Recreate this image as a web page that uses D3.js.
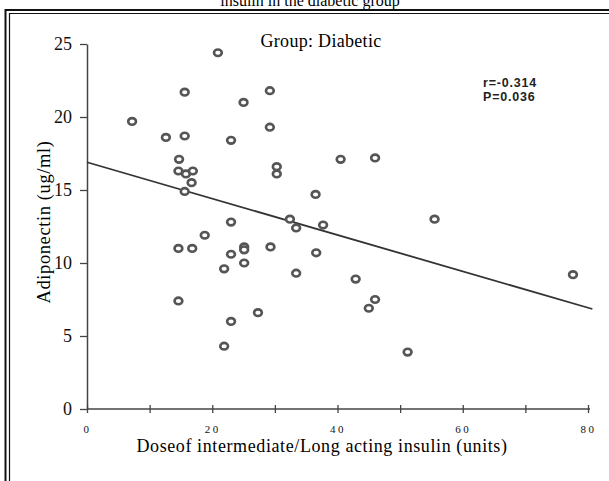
<!DOCTYPE html>
<html>
<head>
<meta charset="utf-8">
<script src="https://cdn.jsdelivr.net/npm/d3@7"></script>
<style>
  body { margin: 0; background: #fff; }
  svg { display: block; }
</style>
</head>
<body>
<div id="chart"></div>
<script>
// insulin dose (units) vs adiponectin (ug/ml), diabetic group
const dose = [20.9, 15.6, 29.2, 25.0, 7.2, 29.2, 12.6, 15.6, 23.0, 40.5,
  14.7, 14.6, 15.8, 16.9, 30.3, 30.3, 16.7, 15.6, 36.5, 46.0,
  55.5, 77.6, 42.9, 46.0, 45.0, 51.2, 32.4, 33.4, 37.7, 23.0,
  18.8, 14.6, 16.8, 25.1, 25.1, 29.3, 23.0, 36.6, 25.1, 21.9,
  33.4, 14.6, 27.3, 23.0, 21.9];
const adiponectin = [24.4, 21.7, 21.8, 21.0, 19.7, 19.3, 18.6, 18.7, 18.4, 17.1,
  17.1, 16.3, 16.1, 16.3, 16.6, 16.1, 15.5, 14.9, 14.7, 17.2,
  13.0, 9.2, 8.9, 7.5, 6.9, 3.9, 13.0, 12.4, 12.6, 12.8,
  11.9, 11.0, 11.0, 11.1, 10.9, 11.1, 10.6, 10.7, 10.0, 9.6,
  9.3, 7.4, 6.6, 6.0, 4.3];
const fitX = [0, 80.7];
const fitY = [16.9, 6.85];
const xTicks = [0, 10, 20, 30, 40, 50, 60, 70, 80];
const xLabels = [0, 20, 40, 60, 80];
const yTicks = [0, 5, 10, 15, 20, 25];
const stats = ['r=-0.314', 'P=0.036'];

const width = 609, height = 481;
const serif = '"Liberation Serif", "Times New Roman", serif';

const svg = d3.select('#chart').append('svg')
  .attr('width', width)
  .attr('height', height);

// double frame (only top & left visible in crop)
svg.append('path')
  .attr('d', `M5.5,${height} V10 H${width}`)
  .attr('fill', 'none').attr('stroke', '#111').attr('stroke-width', 2);
svg.append('path')
  .attr('d', `M9.5,${height} V13.5 H${width}`)
  .attr('fill', 'none').attr('stroke', '#111').attr('stroke-width', 1.2);

// cut-off caption above the frame
svg.append('text')
  .attr('x', 310).attr('y', 6)
  .attr('text-anchor', 'middle')
  .attr('font-family', serif).attr('font-size', 16)
  .text('insulin in the diabetic group');

const x = d3.scaleLinear().domain([0, 80]).range([87, 588]);
const y = d3.scaleLinear().domain([0, 25]).range([409, 44]);

// y axis
const yAxis = svg.append('g')
  .attr('transform', `translate(${x(0)},0)`)
  .call(d3.axisLeft(y).tickValues(yTicks).tickSizeInner(7).tickSizeOuter(0).tickPadding(8));
yAxis.select('.domain').attr('stroke', '#444').attr('stroke-width', 1.5);
yAxis.selectAll('.tick line').attr('stroke', '#444').attr('stroke-width', 1.3);
yAxis.selectAll('.tick text')
  .attr('font-family', serif).attr('font-size', 18).attr('fill', '#111');

// x axis
const xAxis = svg.append('g')
  .attr('transform', `translate(0,${y(0)})`)
  .call(d3.axisBottom(x).tickValues(xTicks).tickSizeOuter(0)
    .tickFormat(d => xLabels.includes(d) ? d : ''));
xAxis.select('.domain').attr('stroke', '#444').attr('stroke-width', 1.5)
  .attr('d', `M${x(0)},0H${x(80) + 2}`);
xAxis.selectAll('.tick line').attr('y1', -4).attr('y2', 4)
  .attr('stroke', '#444').attr('stroke-width', 1.3);
xAxis.selectAll('.tick text')
  .attr('y', 24).attr('dy', null)
  .attr('font-family', serif).attr('font-size', 11)
  .attr('letter-spacing', 2.5).attr('fill', '#111');

// axis titles
svg.append('text')
  .attr('x', 322).attr('y', 452)
  .attr('text-anchor', 'middle')
  .attr('font-family', serif).attr('font-size', 18)
  .attr('letter-spacing', 0.6)
  .text('Doseof intermediate/Long acting insulin (units)');
svg.append('text')
  .attr('transform', 'translate(50,222) rotate(-90)')
  .attr('text-anchor', 'middle')
  .attr('font-family', serif).attr('font-size', 18.5)
  .attr('letter-spacing', 0.6)
  .text('Adiponectin (ug/ml)');

svg.append('text')
  .attr('x', 321).attr('y', 47)
  .attr('text-anchor', 'middle')
  .attr('font-family', serif).attr('font-size', 18)
  .attr('letter-spacing', 0.3)
  .text('Group: Diabetic');

// fit line
svg.append('line')
  .attr('x1', x(fitX[0])).attr('y1', y(fitY[0]))
  .attr('x2', x(fitX[1])).attr('y2', y(fitY[1]))
  .attr('stroke', '#333').attr('stroke-width', 1.8);

// points
svg.append('g').selectAll('ellipse')
  .data(dose.map((d, i) => [d, adiponectin[i]]))
  .join('ellipse')
    .attr('cx', d => x(d[0]))
    .attr('cy', d => y(d[1]))
    .attr('rx', 3.9).attr('ry', 3.3)
    .attr('fill', '#fff')
    .attr('stroke', '#555')
    .attr('stroke-width', 2.6);

// r / P
svg.append('g').selectAll('text')
  .data(stats)
  .join('text')
    .attr('x', 483)
    .attr('y', (d, i) => 86.5 + i * 14.5)
    .attr('font-family', '"Liberation Sans", Arial, sans-serif')
    .attr('font-weight', 'bold').attr('font-size', 12.5)
    .attr('letter-spacing', 0.8)
    .attr('fill', '#222')
    .text(d => d);
</script>
</body>
</html>
